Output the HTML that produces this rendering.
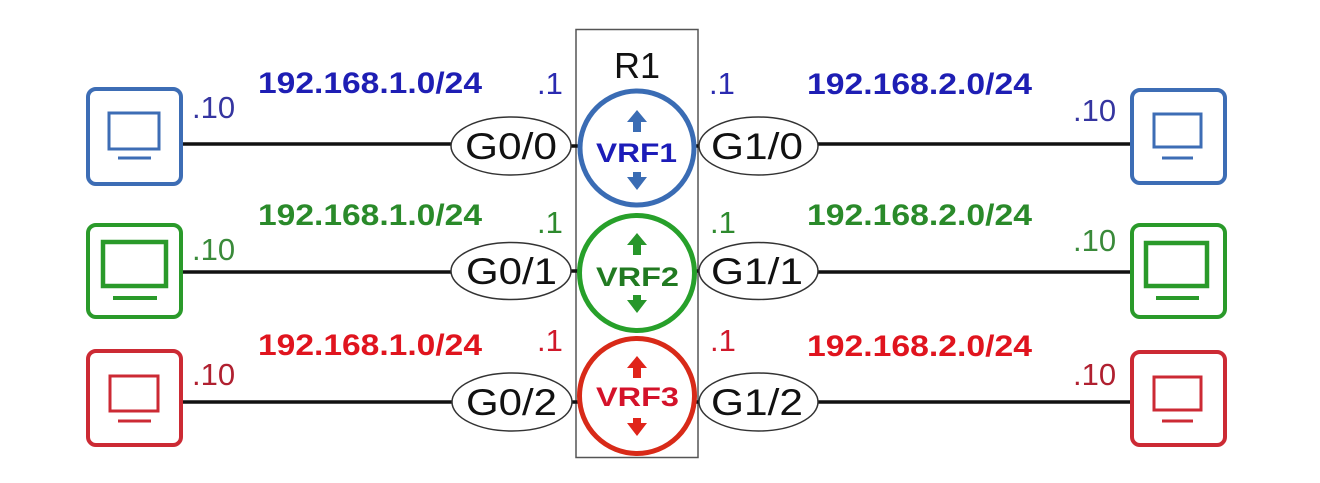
<!DOCTYPE html>
<html>
<head>
<meta charset="utf-8">
<style>
html,body{margin:0;padding:0;background:#fff;}
svg{display:block;}
text{font-family:"Liberation Sans",Arial,sans-serif;}
</style>
</head>
<body>
<svg width="1320" height="483" viewBox="0 0 1320 483" xmlns="http://www.w3.org/2000/svg">
<rect x="0" y="0" width="1320" height="483" fill="#fff"/>

<!-- Router box -->
<rect x="576" y="29.5" width="122" height="428" fill="none" stroke="#555" stroke-width="1.5"/>
<text x="637" y="78" font-size="36" text-anchor="middle" fill="#111">R1</text>

<!-- Lines -->
<g stroke="#111" stroke-width="3.5">
  <line x1="183" y1="144" x2="452" y2="144"/>
  <line x1="816" y1="144" x2="1130" y2="144"/>
  <line x1="183" y1="272" x2="452" y2="272"/>
  <line x1="816" y1="272" x2="1130" y2="272"/>
  <line x1="183" y1="402" x2="452" y2="402"/>
  <line x1="816" y1="402" x2="1130" y2="402"/>
  <line x1="570" y1="146" x2="580" y2="146"/>
  <line x1="694" y1="146" x2="702" y2="146"/>
  <line x1="570" y1="271" x2="580" y2="271"/>
  <line x1="694" y1="271" x2="702" y2="271"/>
  <line x1="570" y1="402" x2="580" y2="402"/>
  <line x1="694" y1="402" x2="702" y2="402"/>
</g>

<!-- Interface ellipses -->
<g fill="#fff" stroke="#333" stroke-width="1.5">
  <ellipse cx="511" cy="146" rx="60" ry="29"/>
  <ellipse cx="758.5" cy="146" rx="59.5" ry="29"/>
  <ellipse cx="511" cy="271" rx="60" ry="28.5"/>
  <ellipse cx="758.5" cy="271" rx="59.5" ry="28.5"/>
  <ellipse cx="512" cy="402" rx="60" ry="29"/>
  <ellipse cx="758.5" cy="402" rx="59.5" ry="29"/>
</g>
<g font-size="37" fill="#111">
  <text x="465" y="159" textLength="92" lengthAdjust="spacingAndGlyphs">G0/0</text>
  <text x="711" y="159" textLength="92" lengthAdjust="spacingAndGlyphs">G1/0</text>
  <text x="466" y="284" textLength="91" lengthAdjust="spacingAndGlyphs">G0/1</text>
  <text x="711" y="284" textLength="92" lengthAdjust="spacingAndGlyphs">G1/1</text>
  <text x="466" y="415" textLength="91" lengthAdjust="spacingAndGlyphs">G0/2</text>
  <text x="711" y="415" textLength="92" lengthAdjust="spacingAndGlyphs">G1/2</text>
</g>

<!-- VRF circles -->
<circle cx="637" cy="148" r="57" fill="#fff" stroke="#3a6cb4" stroke-width="5"/>
<circle cx="637" cy="273" r="57.5" fill="#fff" stroke="#27a02a" stroke-width="5"/>
<circle cx="637" cy="396" r="57.5" fill="#fff" stroke="#d82a18" stroke-width="5"/>

<!-- arrows -->
<g fill="#3a6cb4">
  <polygon points="637,110 647,122 641,122 641,132 633,132 633,122 627,122"/>
  <polygon points="633,172 641,172 641,177 647,177 637,190 627,177 633,177"/>
</g>
<g fill="#27962a">
  <polygon points="637,233 647,245 641,245 641,255 633,255 633,245 627,245"/>
  <polygon points="633,295 641,295 641,300 647,300 637,313 627,300 633,300"/>
</g>
<g fill="#e0241a">
  <polygon points="637,356 647,368 641,368 641,378 633,378 633,368 627,368"/>
  <polygon points="633,418 641,418 641,423 647,423 637,436 627,423 633,423"/>
</g>

<g font-size="27" font-weight="bold">
  <text x="596" y="162" textLength="81" lengthAdjust="spacingAndGlyphs" fill="#1c1cb8">VRF1</text>
  <text x="596" y="286" textLength="83" lengthAdjust="spacingAndGlyphs" fill="#217a21">VRF2</text>
  <text x="596" y="406" textLength="83" lengthAdjust="spacingAndGlyphs" fill="#d4122a">VRF3</text>
</g>

<!-- .1 labels -->
<g font-size="31">
  <text x="537" y="94" fill="#2a2ab0">.1</text>
  <text x="709" y="94" fill="#2a2ab0">.1</text>
  <text x="537" y="233" fill="#2e8a2e">.1</text>
  <text x="710" y="233" fill="#2e8a2e">.1</text>
  <text x="537" y="351" fill="#d0182a">.1</text>
  <text x="710" y="351" fill="#d0182a">.1</text>
</g>

<!-- network labels -->
<g font-size="30" font-weight="bold">
  <text x="258" y="93" textLength="224" lengthAdjust="spacingAndGlyphs" fill="#1e1eb4">192.168.1.0/24</text>
  <text x="807" y="94" textLength="225" lengthAdjust="spacingAndGlyphs" fill="#1e1eb4">192.168.2.0/24</text>
  <text x="258" y="225" textLength="224" lengthAdjust="spacingAndGlyphs" fill="#2a8a2a">192.168.1.0/24</text>
  <text x="807" y="225" textLength="225" lengthAdjust="spacingAndGlyphs" fill="#2a8a2a">192.168.2.0/24</text>
  <text x="258" y="355" textLength="224" lengthAdjust="spacingAndGlyphs" fill="#e0141e">192.168.1.0/24</text>
  <text x="807" y="356" textLength="225" lengthAdjust="spacingAndGlyphs" fill="#e0141e">192.168.2.0/24</text>
</g>

<!-- .10 labels -->
<g font-size="31">
  <text x="192" y="118" fill="#3535a0">.10</text>
  <text x="1073" y="121" fill="#3535a0">.10</text>
  <text x="192" y="260" fill="#3a8a3a">.10</text>
  <text x="1073" y="251" fill="#3a8a3a">.10</text>
  <text x="192" y="385" fill="#b02030">.10</text>
  <text x="1073" y="385" fill="#b02030">.10</text>
</g>

<!-- PCs left -->
<g fill="none" stroke="#3d6db5">
  <rect x="88" y="89" width="93" height="95" rx="8" stroke-width="4"/>
  <rect x="109" y="113" width="50" height="36" stroke-width="3"/>
  <line x1="118" y1="158" x2="151" y2="158" stroke-width="3"/>
</g>
<g fill="none" stroke="#2a9a2a">
  <rect x="88" y="225" width="93" height="92" rx="8" stroke-width="4"/>
  <rect x="103" y="242" width="63" height="44" stroke-width="4.5"/>
  <line x1="113" y1="298" x2="157" y2="298" stroke-width="4"/>
</g>
<g fill="none" stroke="#cc2a34">
  <rect x="88" y="351" width="93" height="94" rx="8" stroke-width="4"/>
  <rect x="110" y="376" width="48" height="35" stroke-width="3"/>
  <line x1="118" y1="421" x2="151" y2="421" stroke-width="3"/>
</g>

<!-- PCs right -->
<g fill="none" stroke="#3d6db5">
  <rect x="1132" y="90" width="93" height="93" rx="8" stroke-width="4"/>
  <rect x="1154" y="114" width="47" height="33" stroke-width="3"/>
  <line x1="1162" y1="158" x2="1193" y2="158" stroke-width="3"/>
</g>
<g fill="none" stroke="#2a9a2a">
  <rect x="1132" y="225" width="93" height="92" rx="8" stroke-width="4"/>
  <rect x="1146" y="243" width="61" height="43" stroke-width="4.5"/>
  <line x1="1156" y1="298" x2="1199" y2="298" stroke-width="4"/>
</g>
<g fill="none" stroke="#cc2a34">
  <rect x="1132" y="352" width="93" height="93" rx="8" stroke-width="4"/>
  <rect x="1154" y="377" width="47" height="33" stroke-width="3"/>
  <line x1="1162" y1="421" x2="1193" y2="421" stroke-width="3"/>
</g>
</svg>
</body>
</html>
